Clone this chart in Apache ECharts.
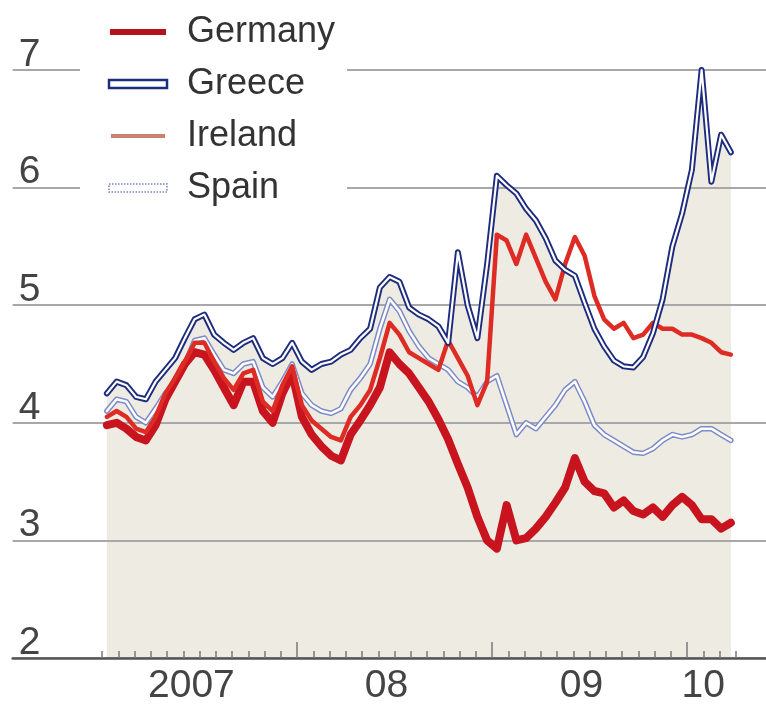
<!DOCTYPE html>
<html>
<head>
<meta charset="utf-8">
<script src="https://cdn.jsdelivr.net/npm/echarts@6/dist/echarts.min.js"></script>
<style>
  html, body { margin: 0; padding: 0; background: #ffffff; }
  #chart { width: 766px; height: 708px; }
</style>
</head>
<body>
<div id="chart"></div>
<script>
// Ten-year government bond yields, %, Jan 2007 – Mar 2010.
// x values are months since 1 Jan 2007, sampled roughly every 18 days.
const months = Array.from({ length: 65 }, (_, i) => +(0.3 + 0.6 * i).toFixed(1));

const germany = [
  3.98, 4.00, 3.95, 3.88, 3.85, 3.98, 4.20, 4.35, 4.50, 4.60,
  4.58, 4.45, 4.30, 4.15, 4.35, 4.35, 4.10, 4.00, 4.25, 4.42,
  4.05, 3.90, 3.80, 3.72, 3.68, 3.90, 4.02, 4.15, 4.30, 4.60,
  4.50, 4.42, 4.30, 4.18, 4.03, 3.86, 3.65, 3.45, 3.20, 3.00,
  2.93, 3.30, 3.00, 3.02, 3.10, 3.20, 3.32, 3.45, 3.70, 3.50,
  3.42, 3.40, 3.28, 3.34, 3.25, 3.22, 3.28, 3.20, 3.30, 3.37,
  3.30, 3.18, 3.18, 3.10, 3.15
];

const greece = [
  4.25, 4.35, 4.32, 4.22, 4.20, 4.35, 4.45, 4.55, 4.72, 4.88,
  4.92, 4.75, 4.68, 4.62, 4.68, 4.72, 4.55, 4.50, 4.55, 4.68,
  4.52, 4.45, 4.50, 4.52, 4.58, 4.62, 4.72, 4.80, 5.15, 5.24,
  5.20, 4.98, 4.92, 4.88, 4.82, 4.68, 5.45, 5.00, 4.72, 5.35,
  6.10, 6.02, 5.95, 5.82, 5.72, 5.57, 5.38, 5.30, 5.25, 5.02,
  4.80, 4.65, 4.53, 4.48, 4.47, 4.56, 4.76, 5.05, 5.50, 5.78,
  6.15, 7.00, 6.05, 6.45, 6.30
];

const ireland = [
  4.05, 4.10, 4.05, 3.95, 3.92, 4.05, 4.25, 4.38, 4.52, 4.68,
  4.68, 4.52, 4.38, 4.28, 4.42, 4.45, 4.18, 4.10, 4.32, 4.48,
  4.15, 4.02, 3.95, 3.88, 3.85, 4.05, 4.15, 4.28, 4.55, 4.85,
  4.75, 4.60, 4.55, 4.50, 4.45, 4.70, 4.55, 4.40, 4.15, 4.35,
  5.60, 5.55, 5.35, 5.60, 5.40, 5.20, 5.05, 5.35, 5.58, 5.42,
  5.08, 4.88, 4.80, 4.85, 4.72, 4.75, 4.85, 4.80, 4.80, 4.75,
  4.75, 4.72, 4.68, 4.60, 4.58
];

const spain = [
  4.10, 4.20, 4.18, 4.05, 4.00, 4.12, 4.25, 4.35, 4.50, 4.70,
  4.72, 4.58, 4.45, 4.42, 4.50, 4.52, 4.30, 4.22, 4.35, 4.50,
  4.25, 4.15, 4.10, 4.08, 4.12, 4.28, 4.38, 4.50, 4.80, 5.05,
  4.95, 4.78, 4.65, 4.55, 4.50, 4.45, 4.35, 4.30, 4.22, 4.35,
  4.40, 4.15, 3.90, 4.00, 3.95, 4.05, 4.15, 4.28, 4.35, 4.18,
  3.98, 3.90, 3.85, 3.80, 3.75, 3.74, 3.78, 3.85, 3.90, 3.88,
  3.90, 3.95, 3.95, 3.90, 3.85
];

// Year labels sit mid-year (last one over the visible part of 2010)
const yearLabelPos = [5.5, 17.5, 29.5, 37];
const yearLabelText = ['2007', '08', '09', '10'];

// Layout: month 0 (1 Jan 2007) at x = 102px, 16.25px per month
const ORIGIN_X = 102, PX_PER_MONTH = 16.25, WIDTH = 766;
const AXIS_MIN = -5.5;                      // left edge of the plot
const AXIS_MAX = (WIDTH - ORIGIN_X) / PX_PER_MONTH;
const Y_MIN = 2, Y_MAX = 7.5;
const TOP = 11.2, BOTTOM = 50;
const xAt = m => ORIGIN_X + m * PX_PER_MONTH;

const pairs = vals => months.map((m, i) => [m, vals[i]]);

const FONT = "'Liberation Sans', Arial, sans-serif";

const chart = echarts.init(document.getElementById('chart'), null, { renderer: 'canvas' });

const lineSeries = (name, vals, color, width, z) => ({
  type: 'line', name, data: pairs(vals),
  xAxisIndex: 0, yAxisIndex: 0,
  symbol: 'none', smooth: false, z,
  lineStyle: { color, width, join: 'round', cap: 'round' },
  itemStyle: { color },
  emphasis: { disabled: true }, silent: true
});

chart.setOption({
  animation: false,
  backgroundColor: '#ffffff',
  grid: [
    { left: xAt(AXIS_MIN), right: 0, top: TOP, bottom: BOTTOM },
    { left: xAt(0), right: WIDTH - xAt(39), top: TOP, bottom: BOTTOM },
    { left: xAt(12), right: WIDTH - xAt(36), top: TOP, bottom: BOTTOM }
  ],
  xAxis: [
    {
      type: 'value', gridIndex: 0, min: AXIS_MIN, max: AXIS_MAX, interval: 0.5, z: 1,
      axisLine: { show: true, lineStyle: { color: '#555555', width: 2.5 } },
      axisTick: { show: false },
      splitLine: { show: false },
      axisLabel: {
        margin: 9, color: '#444444', fontSize: 39, fontFamily: FONT,
        showMinLabel: false, showMaxLabel: false,
        formatter: v => {
          const k = yearLabelPos.findIndex(p => Math.abs(p - v) < 1e-6);
          return k >= 0 ? yearLabelText[k] : '';
        }
      }
    },
    {
      // monthly ticks
      type: 'value', gridIndex: 1, min: 0, max: 39, interval: 1, z: 1,
      axisLine: { show: false }, splitLine: { show: false }, axisLabel: { show: false },
      axisTick: { show: true, inside: true, length: 7, lineStyle: { color: '#7a7a7a', width: 1.5 } }
    },
    {
      // year boundaries
      type: 'value', gridIndex: 2, min: 12, max: 36, interval: 12, z: 1,
      axisLine: { show: false }, splitLine: { show: false }, axisLabel: { show: false },
      axisTick: { show: true, inside: true, length: 16, lineStyle: { color: '#7a7a7a', width: 1.5 } }
    }
  ],
  yAxis: [
    {
      type: 'value', gridIndex: 0, min: Y_MIN, max: Y_MAX, interval: 1, z: 1,
      axisLine: { show: false }, axisTick: { show: false },
      splitLine: { show: true, showMaxLine: false, lineStyle: { color: '#a8a8a8', width: 2 } },
      axisLabel: {
        inside: true, margin: 6, verticalAlign: 'bottom', lineHeight: 30,
        showMaxLabel: false,
        color: '#444444', fontSize: 39, fontFamily: FONT,
        formatter: v => (Number.isInteger(v) ? String(v) : '')
      }
    },
    { type: 'value', gridIndex: 1, min: Y_MIN, max: Y_MAX, show: false },
    { type: 'value', gridIndex: 2, min: Y_MIN, max: Y_MAX, show: false }
  ],
  legend: {
    orient: 'vertical', left: 80, top: 5,
    padding: [7, 12, 5, 27],
    backgroundColor: '#ffffff',
    itemWidth: 58, itemHeight: 8, itemGap: 12,
    selectedMode: false,
    textStyle: { color: '#333333', fontSize: 36, fontFamily: FONT, lineHeight: 40, padding: [0, 0, 0, 15] },
    data: [
      { name: 'Germany', icon: 'rect', itemStyle: { color: '#b3131f', borderColor: '#ffffff', borderWidth: 2 } },
      { name: 'Greece', icon: 'rect', itemStyle: { color: '#ffffff', borderColor: '#1e2c7e', borderWidth: 2.5 } },
      { name: 'Ireland', icon: 'rect', itemStyle: { color: '#c9826f', borderColor: '#ffffff', borderWidth: 4 } },
      { name: 'Spain', icon: 'rect', itemStyle: { color: '#ffffff', borderColor: '#7584c4', borderWidth: 1.5, borderType: 'dotted' } }
    ]
  },
  series: [
    {
      // shaded area beneath the Greek yield
      type: 'line', name: 'greeceArea', data: pairs(greece),
      xAxisIndex: 0, yAxisIndex: 0, symbol: 'none', z: 0, silent: true,
      lineStyle: { width: 0, opacity: 0 },
      areaStyle: { color: '#eeebe3', opacity: 1 },
      emphasis: { disabled: true }
    },
    lineSeries('Spain', spain, '#7d8bc8', 5.5, 2),
    lineSeries('spainInner', spain, '#ffffff', 2.5, 2),
    lineSeries('Germany', germany, '#c8141e', 8, 3),
    lineSeries('Ireland', ireland, '#de2b24', 4.5, 3),
    lineSeries('Greece', greece, '#1e2c7e', 6, 4),
    lineSeries('greeceInner', greece, '#ffffff', 2.2, 4)
  ]
});
</script>
</body>
</html>
